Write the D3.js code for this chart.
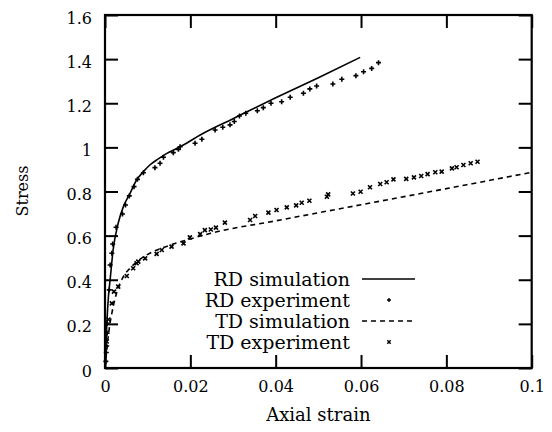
<!DOCTYPE html>
<html>
<head>
<meta charset="utf-8">
<title>Stress vs axial strain</title>
<script src="https://cdn.jsdelivr.net/npm/d3@7"></script>
<style>
    body{ margin:0; background:#fff; }
    svg{ display:block; }
    text{ font-family:"DejaVu Serif", serif; fill:#000; }
</style>
</head>
<body>
<svg width="552" height="432"></svg>
<script>
// RD simulation curve (solid)
var rdSimStrain = [0, 0.0002, 0.0004, 0.0008, 0.0012, 0.0019, 0.0031, 0.0043, 0.0059, 0.0074, 0.0090, 0.0105, 0.0125, 0.0145, 0.0170, 0.0191, 0.0223, 0.0300, 0.0400, 0.0500, 0.0598];
var rdSimStress = [0, 0.09, 0.187, 0.323, 0.40, 0.535, 0.657, 0.731, 0.793, 0.852, 0.89, 0.92, 0.948, 0.973, 0.997, 1.019, 1.056, 1.13, 1.225, 1.316, 1.408];

// RD experiment (+)
var rdExpStrain = [0.0002, 0.0003, 0.0004, 0.0005, 0.0005, 0.0010, 0.0012, 0.0016, 0.0018, 0.0026, 0.0041, 0.0048, 0.0057, 0.0068, 0.0076, 0.0090, 0.0117, 0.0129, 0.0137, 0.0160, 0.0172, 0.0176, 0.0211, 0.0227, 0.0258, 0.0276, 0.0293, 0.0303, 0.0315, 0.0330, 0.0357, 0.0371, 0.0389, 0.0414, 0.0434, 0.0465, 0.0480, 0.0496, 0.0534, 0.0555, 0.0588, 0.0606, 0.0625, 0.0641];
var rdExpStress = [0.03, 0.07, 0.10, 0.158, 0.203, 0.354, 0.467, 0.52, 0.562, 0.638, 0.698, 0.739, 0.78, 0.822, 0.855, 0.885, 0.908, 0.928, 0.955, 0.976, 0.991, 1.003, 1.019, 1.037, 1.079, 1.091, 1.102, 1.117, 1.142, 1.155, 1.166, 1.18, 1.20, 1.207, 1.227, 1.245, 1.265, 1.278, 1.287, 1.309, 1.325, 1.343, 1.358, 1.384];

// TD simulation curve (dashed)
var tdSimStrain = [0, 0.0005, 0.0010, 0.0016, 0.0027, 0.0043, 0.0060, 0.0080, 0.0100, 0.0150, 0.0200, 0.0246, 0.0400, 0.0600, 0.0800, 0.1000];
var tdSimStress = [0, 0.10, 0.18, 0.248, 0.339, 0.414, 0.455, 0.49, 0.515, 0.555, 0.585, 0.61, 0.667, 0.74, 0.813, 0.887];

// TD experiment (x)
var tdExpStrain = [0.0004, 0.0008, 0.0016, 0.0021, 0.0031, 0.0051, 0.0066, 0.0074, 0.0078, 0.0094, 0.0121, 0.0133, 0.0156, 0.0184, 0.0199, 0.0223, 0.0234, 0.0248, 0.0260, 0.0281, 0.0340, 0.0352, 0.0383, 0.0402, 0.0426, 0.0448, 0.0461, 0.0479, 0.0520, 0.0523, 0.0581, 0.0599, 0.0621, 0.0645, 0.0660, 0.0676, 0.0706, 0.0724, 0.0741, 0.0756, 0.0774, 0.0789, 0.0813, 0.0824, 0.0840, 0.0857, 0.0873];
var tdExpStress = [0.12, 0.22, 0.293, 0.346, 0.369, 0.417, 0.452, 0.475, 0.482, 0.497, 0.517, 0.535, 0.55, 0.565, 0.592, 0.607, 0.625, 0.628, 0.636, 0.659, 0.671, 0.689, 0.704, 0.716, 0.728, 0.737, 0.749, 0.758, 0.776, 0.787, 0.791, 0.799, 0.819, 0.834, 0.842, 0.855, 0.857, 0.864, 0.87, 0.879, 0.887, 0.89, 0.905, 0.91, 0.92, 0.928, 0.935];

// ticks
var xTicks = [0, 0.02, 0.04, 0.06, 0.08, 0.1];
var xTickLabels = ["0", "0.02", "0.04", "0.06", "0.08", "0.1"];
var yTicks = [0, 0.2, 0.4, 0.6, 0.8, 1, 1.2, 1.4, 1.6];
var yTickLabels = ["0", "0.2", "0.4", "0.6", "0.8", "1", "1.2", "1.4", "1.6"];
var legendLabels = ["RD simulation", "RD experiment", "TD simulation", "TD experiment"];

var svg = d3.select("svg");
var pLeft = 105, pTop = 15, pRight = 531.7, pBottom = 368;
var tick = 13;

var x = d3.scaleLinear().domain([0, 0.1]).range([pLeft, pRight]);
var y = d3.scaleLinear().domain([0, 1.6]).range([pBottom, pTop]);

function zip(a, b) {
    return a.map(function(v, i){ return [v, b[i]]; });
}

// axes, ticks pointing inward on all four sides
function fmt(arr, ticks) {
    return function(d) { return arr[ticks.indexOf(d)]; };
}
var gx = svg.append("g").attr("transform", "translate(0," + pBottom + ")")
    .call(d3.axisBottom(x).tickValues(xTicks).tickSize(-tick).tickPadding(13).tickFormat(fmt(xTickLabels, xTicks)));
var gxt = svg.append("g").attr("transform", "translate(0," + pTop + ")")
    .call(d3.axisTop(x).tickValues(xTicks).tickSize(-tick).tickFormat(""));
var gy = svg.append("g").attr("transform", "translate(" + pLeft + ",0)")
    .call(d3.axisLeft(y).tickValues(yTicks).tickSize(-tick).tickPadding(13).tickFormat(fmt(yTickLabels, yTicks)));
var gyr = svg.append("g").attr("transform", "translate(" + pRight + ",0)")
    .call(d3.axisRight(y).tickValues(yTicks).tickSize(-tick).tickFormat(""));

[gx, gxt, gy, gyr].forEach(function(g){
    g.select(".domain").remove();
    g.selectAll("line").attr("stroke", "#000").attr("stroke-width", 2);
    g.selectAll("text").style("font-family", "DejaVu Serif").style("font-size", "16px").attr("fill", "#000");
});
gy.selectAll("text").attr("dy", "0.5em");

svg.append("rect")
    .attr("x", pLeft).attr("y", pTop)
    .attr("width", pRight - pLeft).attr("height", pBottom - pTop)
    .attr("fill", "none").attr("stroke", "#000").attr("stroke-width", 2.2);

// axis titles
svg.append("text").attr("x", (pLeft + pRight) / 2).attr("y", 421)
    .attr("text-anchor", "middle").style("font-size", "18px").text("Axial strain");
svg.append("text").attr("transform", "translate(28,191) rotate(-90)")
    .attr("text-anchor", "middle").style("font-size", "16px").text("Stress");

var line = d3.line().x(function(d){ return x(d[0]); }).y(function(d){ return y(d[1]); }).curve(d3.curveMonotoneX);

svg.append("path").datum(zip(rdSimStrain, rdSimStress))
    .attr("d", line).attr("fill", "none").attr("stroke", "#000").attr("stroke-width", 1.6);
svg.append("path").datum(zip(tdSimStrain, tdSimStress))
    .attr("d", line).attr("fill", "none").attr("stroke", "#000").attr("stroke-width", 1.6)
    .attr("stroke-dasharray", "5,4");

// markers
function plus(s) { return "M" + (-s) + ",0H" + s + "M0," + (-s) + "V" + s; }
function cross(s) { return "M" + (-s) + "," + (-s) + "L" + s + "," + s + "M" + (-s) + "," + s + "L" + s + "," + (-s); }

svg.append("g").selectAll("path").data(zip(rdExpStrain, rdExpStress)).enter().append("path")
    .attr("transform", function(d){ return "translate(" + x(d[0]) + "," + y(d[1]) + ")"; })
    .attr("d", plus(2.5)).attr("stroke", "#000").attr("stroke-width", 1.6);
svg.append("g").selectAll("path").data(zip(tdExpStrain, tdExpStress)).enter().append("path")
    .attr("transform", function(d){ return "translate(" + x(d[0]) + "," + y(d[1]) + ")"; })
    .attr("d", cross(2)).attr("stroke", "#000").attr("stroke-width", 1.6);

// legend
var lg = svg.append("g");
var rowY = [279, 300, 321, 342];
lg.selectAll("text").data(legendLabels).enter().append("text")
    .attr("x", 350).attr("y", function(d, i){ return rowY[i]; })
    .attr("dy", "0.35em").attr("text-anchor", "end").style("font-size", "19px")
    .text(function(d){ return d; });
lg.append("line").attr("x1", 362).attr("x2", 415).attr("y1", rowY[0]).attr("y2", rowY[0])
    .attr("stroke", "#000").attr("stroke-width", 1.6);
lg.append("line").attr("x1", 362).attr("x2", 415).attr("y1", rowY[2]).attr("y2", rowY[2])
    .attr("stroke", "#000").attr("stroke-width", 1.6).attr("stroke-dasharray", "5,4");
lg.append("path").attr("transform", "translate(389," + rowY[1] + ")").attr("d", plus(2))
    .attr("stroke", "#000").attr("stroke-width", 1.4);
lg.append("path").attr("transform", "translate(389," + rowY[3] + ")").attr("d", cross(1.7))
    .attr("stroke", "#000").attr("stroke-width", 1.4);
</script>
</body>
</html>
